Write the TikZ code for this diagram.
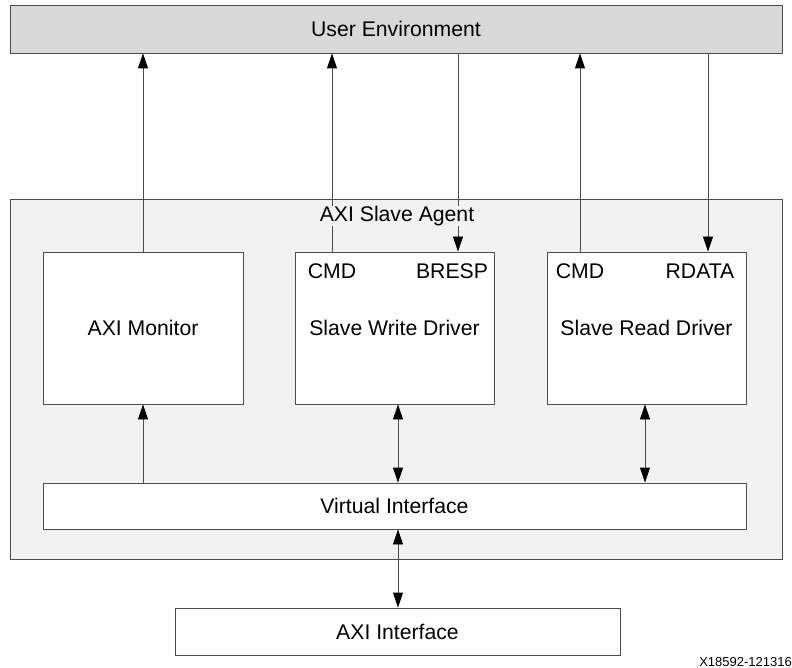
\documentclass[tikz,border=0pt]{standalone}
\usepackage{fontspec}
\setmainfont{Liberation Sans}
\usetikzlibrary{arrows.meta}

\begin{document}
\begin{tikzpicture}[x=1pt,y=-1pt,
    blk/.style={draw=black!70,line width=0.9pt,fill=white,minimum height=152pt,minimum width=200pt,inner sep=0pt,font=\fontsize{21.2}{24}\selectfont},
    lbl/.style={inner sep=1pt,font=\fontsize{21.2}{24}\selectfont},
    tip/.tip={Triangle[length=15pt,width=10pt,color=black]},
    sig/.style={draw=black!70,line width=0.9pt,-tip},
    bus/.style={draw=black!70,line width=0.9pt,tip-tip}]
  \useasboundingbox (0,0) rectangle (792,668);

  \node[blk,fill=black!15,minimum width=772pt,minimum height=48pt] (userenv) at (396,29) {User Environment};
  \node[blk,fill=black!5,minimum width=772pt,minimum height=360pt] (agent) at (396,379) {};

  \node[blk] (monitor) at (143,328) {AXI Monitor};
  \node[blk,minimum width=199pt] (wdrv) at (394.5,328) {Slave Write Driver};
  \node[blk,minimum width=199pt] (rdrv) at (646.5,328) {Slave Read Driver};
  \node[blk,minimum width=703pt,minimum height=46pt] (vif) at (394.5,506) {Virtual Interface};
  \node[blk,minimum width=445pt,minimum height=47pt] (axiif) at (397.5,631.5) {AXI Interface};

  \node[lbl] (wcmd) at (332,271) {CMD};
  \node[lbl] (wresp) at (452,271) {BRESP};
  \node[lbl] (rcmd) at (580,271) {CMD};
  \node[lbl] (rdata) at (700,271) {RDATA};

  \coordinate (wrespx) at (458,0);
  \coordinate (rdatax) at (708,0);

  \draw[sig] (monitor.north) -- (monitor.north |- userenv.south);
  \draw[sig] (wcmd |- wdrv.north) -- (wcmd |- userenv.south);
  \draw[sig] (wrespx |- userenv.south) -- (wrespx |- wdrv.north);
  \draw[sig] (rcmd |- rdrv.north) -- (rcmd |- userenv.south);
  \draw[sig] (rdatax |- userenv.south) -- (rdatax |- rdrv.north);

  \draw[sig] (monitor.south |- vif.north) -- (monitor.south);
  \draw[bus] (398,0 |- wdrv.south) -- (398,0 |- vif.north);
  \draw[bus] (645,0 |- rdrv.south) -- (645,0 |- vif.north);
  \draw[bus] (398,0 |- vif.south) -- (398,0 |- axiif.north);

  \node[lbl,fill=black!5,inner sep=0pt] (agentlbl) at (397,216) {AXI Slave Agent};
  \node[font=\fontsize{13}{15}\selectfont,anchor=east,inner sep=0pt] (docid) at (792,662) {X18592-121316};
\end{tikzpicture}
\end{document}
